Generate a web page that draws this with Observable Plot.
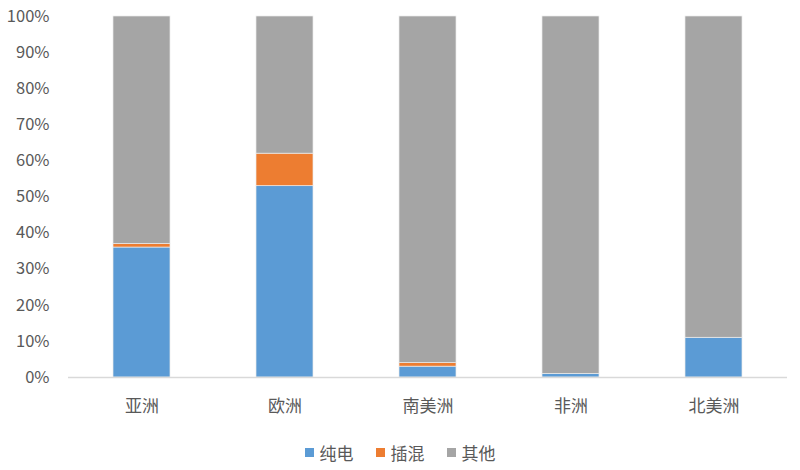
<!DOCTYPE html>
<html>
<head>
<meta charset="utf-8">
<script src="https://cdn.jsdelivr.net/npm/d3@7"></script>
<script src="https://cdn.jsdelivr.net/npm/@observablehq/plot@0.6"></script>
<style>
  body { margin: 0; background: #fff; font-family: "Noto Sans CJK SC", "Noto Sans", sans-serif; }
  #chart { width: 800px; }
  .legend { display: flex; justify-content: center; gap: 22px; font-size: 17px; color: #595959; height: 40px; align-items: center; margin-top: 2px; }
  .legend span.sw { display: inline-block; width: 9px; height: 9px; margin-right: 6px; vertical-align: middle; }
  .legend .item { display: flex; align-items: center; }
</style>
</head>
<body>
<div id="chart"></div>
<script>
const regions = ["亚洲", "欧洲", "南美洲", "非洲", "北美洲"];
const seriesNames = ["纯电", "插混", "其他"];
const pureEV = [36, 53, 3, 1, 11];
const phev = [1, 9, 1, 0, 0];
const other = [63, 38, 96, 99, 89];
const colors = ["#5B9BD5", "#ED7D31", "#A5A5A5"];
const yTicks = [0, 10, 20, 30, 40, 50, 60, 70, 80, 90, 100];

const seriesValues = [pureEV, phev, other];
const data = [];
seriesNames.forEach((s, si) => {
  regions.forEach((r, ri) => data.push({ region: r, series: s, value: seriesValues[si][ri] }));
});

const chart = Plot.plot({
  width: 800,
  height: 430,
  marginLeft: 68,
  marginRight: 13,
  marginTop: 16,
  marginBottom: 53,
  style: { fontFamily: "'Noto Sans CJK SC', 'Noto Sans', sans-serif", fontSize: "16px", color: "#595959" },
  x: { domain: regions, paddingInner: 0.6, paddingOuter: 0.3, label: null },
  y: { domain: [0, 100], label: null },
  color: { domain: seriesNames, range: colors },
  marks: [
    Plot.barY(data, Plot.stackY({ x: "region", y: "value", fill: "series", stroke: "#ececec", strokeWidth: 0.7, order: null })),
    Plot.ruleY([0], { stroke: "#d9d9d9", strokeWidth: 1.5 }),
    Plot.axisY({ ticks: yTicks, tickFormat: d => d + "%", tickSize: 0, tickPadding: 19, label: null, fontSize: 16.5, fill: "#595959" }),
    Plot.axisX({ tickSize: 0, tickPadding: 22, label: null, fontSize: 17, fill: "#595959" })
  ]
});
document.getElementById("chart").appendChild(chart);

const legend = document.createElement("div");
legend.className = "legend";
seriesNames.forEach((s, i) => {
  const it = document.createElement("div");
  it.className = "item";
  const sw = document.createElement("span");
  sw.className = "sw";
  sw.style.background = colors[i];
  it.appendChild(sw);
  it.appendChild(document.createTextNode(s));
  legend.appendChild(it);
});
document.getElementById("chart").appendChild(legend);
</script>
</body>
</html>
